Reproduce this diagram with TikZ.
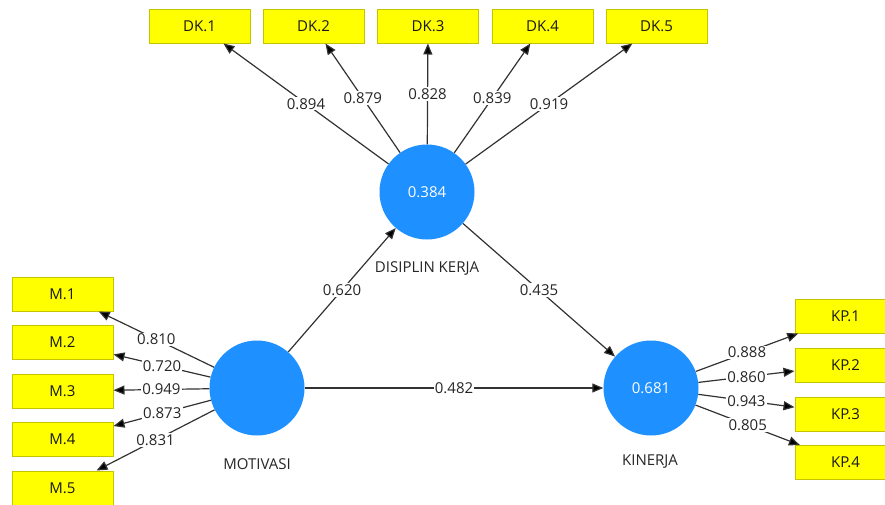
\documentclass[tikz,border=0pt]{standalone}
\usepackage{fontspec}
\setmainfont{Open Sans}
\usetikzlibrary{arrows.meta}
\definecolor{lvblue}{RGB}{30,144,255}
\definecolor{ybox}{RGB}{255,255,0}
\definecolor{yborder}{RGB}{196,196,0}
\definecolor{edgecol}{RGB}{50,50,50}
\begin{document}
\begin{tikzpicture}[x=1pt,y=-1pt,
  ind/.style={draw=yborder, fill=ybox, line width=1pt, minimum width=101pt, minimum height=34pt, inner sep=0pt, font=\fontsize{15}{18}\selectfont, text=black!90},
  lat/.style={circle, fill=lvblue, minimum size=95pt, inner sep=0pt, text=white, font=\fontsize{15}{18}\selectfont},
  latname/.style={font=\fontsize{15}{18}\selectfont, text=black!85},
  arr/.style={draw=edgecol, line width=1.2pt, -{Triangle[length=11pt,width=9pt,fill=black]}},
  lab/.style={fill=white, inner sep=1.2pt, font=\fontsize{15}{18}\selectfont, text=black!85}]
\useasboundingbox (0,0) rectangle (885,504);
% latent variables
\node[lat] (dk) at (427,192) {0.384};
\node[lat] (mot) at (257,388) {};
\node[lat] (kin) at (651,388) {0.681};
\node[latname] (dkn) at (427,268) {DISIPLIN KERJA};
\node[latname] (motn) at (257,464) {MOTIVASI};
\node[latname] (kinn) at (650,462) {KINERJA};
% DK indicators
\node[ind] (dk1) at (199.5,26) {DK.1};
\node[ind] (dk2) at (313.5,26) {DK.2};
\node[ind] (dk3) at (428,26) {DK.3};
\node[ind] (dk4) at (542.5,26) {DK.4};
\node[ind] (dk5) at (656.5,26) {DK.5};
% M indicators
\node[ind] (m1) at (62.5,294) {M.1};
\node[ind] (m2) at (62.5,342.5) {M.2};
\node[ind] (m3) at (62.5,391) {M.3};
\node[ind] (m4) at (62.5,439.5) {M.4};
\node[ind] (m5) at (62.5,488) {M.5};
% KP indicators
\node[ind] (kp1) at (845.5,316) {KP.1};
\node[ind] (kp2) at (845.5,365) {KP.2};
\node[ind] (kp3) at (845.5,414) {KP.3};
\node[ind] (kp4) at (845.5,462.5) {KP.4};
% loadings
\draw[arr] (dk) -- node[lab] {0.894} (dk1);
\draw[arr] (dk) -- node[lab] {0.879} (dk2);
\draw[arr] (dk) -- node[lab] {0.828} (dk3);
\draw[arr] (dk) -- node[lab] {0.839} (dk4);
\draw[arr] (dk) -- node[lab] {0.919} (dk5);
\draw[arr] (mot) -- node[lab] {0.810} (m1);
\draw[arr] (mot) -- node[lab] {0.720} (m2);
\draw[arr] (mot) -- node[lab] {0.949} (m3);
\draw[arr] (mot) -- node[lab] {0.873} (m4);
\draw[arr] (mot) -- node[lab] {0.831} (m5);
\draw[arr] (kin) -- node[lab] {0.888} (kp1);
\draw[arr] (kin) -- node[lab] {0.860} (kp2);
\draw[arr] (kin) -- node[lab] {0.943} (kp3);
\draw[arr] (kin) -- node[lab] {0.805} (kp4);
% paths
\draw[arr] (mot) -- node[lab] {0.620} (dk);
\draw[arr] (dk) -- node[lab] {0.435} (kin);
\draw[arr] (mot) -- node[lab] {0.482} (kin);
\end{tikzpicture}
\end{document}
